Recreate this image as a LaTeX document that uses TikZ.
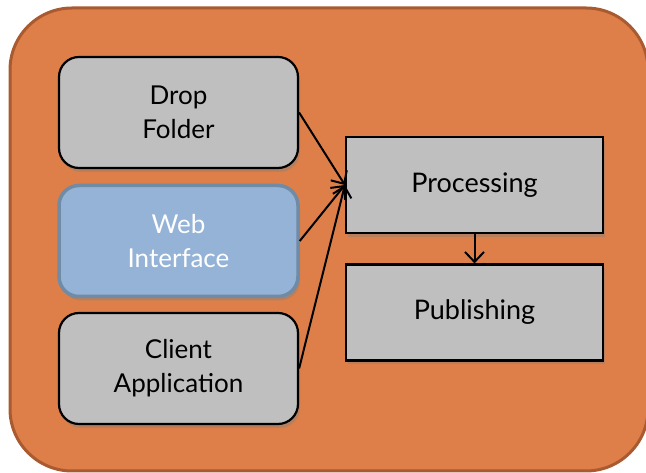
\documentclass[tikz,border=0pt]{standalone}
\usepackage{fontspec}
\setmainfont{Lato}
\usepackage{tikz}
\usetikzlibrary{arrows.meta,shadows}

\definecolor{panelfill}{HTML}{DE7F49}
\definecolor{paneledge}{HTML}{A95A30}
\definecolor{boxgray}{HTML}{BFBFBF}
\definecolor{webfill}{HTML}{95B3D6}
\definecolor{webedge}{HTML}{6F8BA6}

\begin{document}
\begin{tikzpicture}
        [%%%%%%%%%%%%%%%%%%%%%%%%%%%%%%
        x=1pt,y=1pt,
        srcbox/.style={rectangle,rounded corners=20pt,draw=black,line width=2.2pt,
          fill=boxgray,minimum width=239pt,minimum height=111pt,align=center,
          font=\fontsize{26}{34}\selectfont,
          drop shadow={shadow xshift=2pt,shadow yshift=-4pt,opacity=0.4}},
        webbox/.style={srcbox,draw=webedge,line width=3.5pt,fill=webfill,text=white},
        stagebox/.style={rectangle,draw=black,line width=2.2pt,fill=boxgray,
          minimum width=257pt,minimum height=96pt,
          font=\fontsize{27}{34}\selectfont,
          drop shadow={shadow xshift=2pt,shadow yshift=-4pt,opacity=0.4}},
        link/.style={line width=2pt,-{Straight Barb[length=10pt,width=19pt,line width=2pt]}},
        ]%%%%%%%%%%%%%%%%%%%%%%%%%%%%%%
        \useasboundingbox (0,0) rectangle (646,473);
        \begin{scope}
          \clip (0,0) rectangle (646,473);
          % Orange panel behind everything
          \draw[fill=panelfill,draw=paneledge,line width=3pt,rounded corners=62pt]
            (10,2) rectangle (648,465);
        \end{scope}

        % Sources on the left
        \node[srcbox] (drop) at (178.5,360.5) {Drop\\Folder};
        \node[webbox] (web) at (178.5,232) {Web\\Interface};
        \node[srcbox] (client) at (178.5,104.5) {Client\\Application};

        % Stages on the right
        \node[stagebox] (proc) at (474.5,288) {Processing};
        \node[stagebox] (pub) at (474.5,160.5) {Publishing};

        \draw[link] (drop.east) -- (proc.west);
        \draw[link] (web.east) -- (proc.west);
        \draw[link] (client.east) -- (proc.west);
        \draw[link] (proc.south) -- (pub.north);

      \end{tikzpicture}
\end{document}
